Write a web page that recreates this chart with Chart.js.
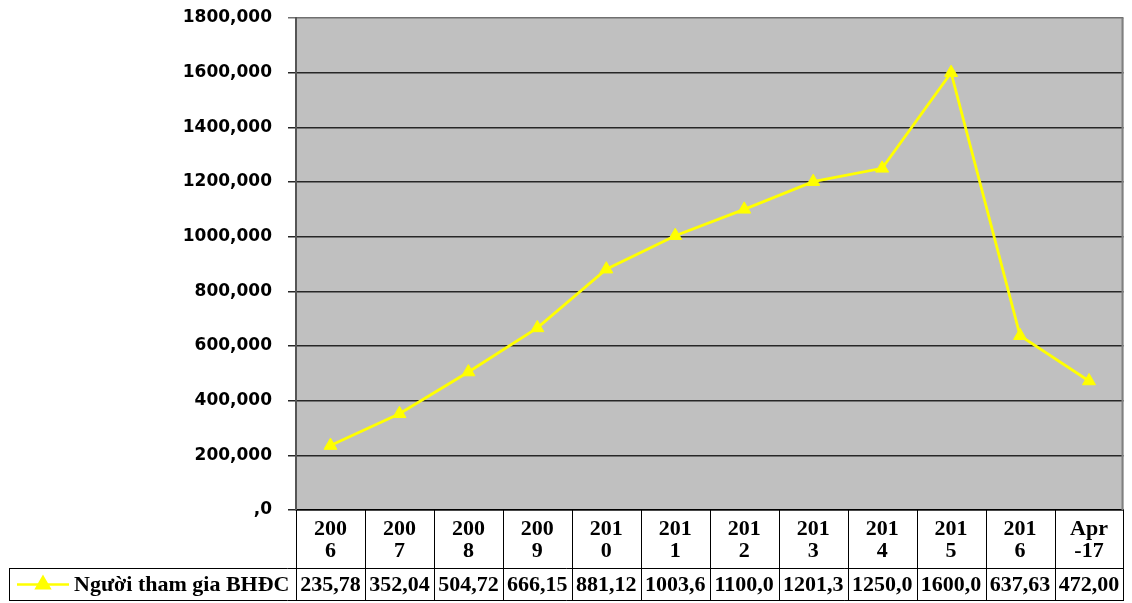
<!DOCTYPE html>
<html>
<head>
<meta charset="utf-8">
<script src="https://cdn.jsdelivr.net/npm/chart.js@4"></script>
<style>
  html, body { margin: 0; padding: 0; background: #fff; }
  #wrap { width: 1132px; height: 603px; position: relative; }
</style>
</head>
<body>
<div id="wrap"><canvas id="chart"></canvas></div>
<script>
const categories = ['2006', '2007', '2008', '2009', '2010', '2011', '2012', '2013', '2014', '2015', '2016', 'Apr-17'];
const participants = [235.78, 352.04, 504.72, 666.15, 881.12, 1003.6, 1100.0, 1201.3, 1250.0, 1600.0, 637.63, 472.00];
const seriesLabel = 'Người tham gia BHĐC';
const yTicks = [0, 200, 400, 600, 800, 1000, 1200, 1400, 1600, 1800];

const YELLOW = '#FFFF00';
const PLOT_BG = '#C0C0C0';
const TABLE_FONT = 'bold 22px "Liberation Serif", "Times New Roman", serif';

// Excel squeezed the year labels onto two lines
const wrapped = categories.map(c => [c.slice(0, 3), c.slice(3)]);
// cells only fit six characters
const cellText = v => v.toFixed(2).replace('.', ',').slice(0, 6);

const plotArea = {
  id: 'plotArea',
  beforeDraw(chart) {
    const { ctx, chartArea: a } = chart;
    ctx.save();
    ctx.fillStyle = PLOT_BG;
    ctx.fillRect(a.left, a.top, a.right - a.left, a.bottom - a.top);
    ctx.restore();
  },
  afterDatasetsDraw(chart) {
    const { ctx, chartArea: a } = chart;
    ctx.save();
    ctx.strokeStyle = '#808080';
    ctx.lineWidth = 2;
    ctx.beginPath();
    ctx.moveTo(a.right - 1, a.top);
    ctx.lineTo(a.right - 1, a.bottom);
    ctx.stroke();
    ctx.restore();
  }
};

const dataTable = {
  id: 'dataTable',
  afterDraw(chart) {
    const { ctx, chartArea: a } = chart;
    const x = chart.scales.x;
    const n = categories.length;
    const w = (a.right - a.left) / n;
    const rowTop = a.bottom + 58;
    const rowBottom = a.bottom + 91;
    const legendLeft = 9;
    const midY = (rowTop + rowBottom) / 2;

    ctx.save();
    ctx.strokeStyle = '#000';
    ctx.lineWidth = 1;
    ctx.beginPath();
    for (let i = 0; i < n; i++) {
      const edge = Math.round(x.getPixelForValue(i) - w / 2) + 0.5;
      ctx.moveTo(edge, a.bottom);
      ctx.lineTo(edge, rowBottom);
    }
    ctx.moveTo(Math.round(a.right) - 0.5, a.bottom);
    ctx.lineTo(Math.round(a.right) - 0.5, rowBottom);
    ctx.moveTo(legendLeft, rowTop + 0.5);
    ctx.lineTo(a.right, rowTop + 0.5);
    ctx.moveTo(legendLeft, rowBottom - 0.5);
    ctx.lineTo(a.right, rowBottom - 0.5);
    ctx.moveTo(legendLeft + 0.5, rowTop);
    ctx.lineTo(legendLeft + 0.5, rowBottom);
    ctx.stroke();

    // values row
    ctx.fillStyle = '#000';
    ctx.font = TABLE_FONT;
    ctx.textAlign = 'center';
    ctx.textBaseline = 'middle';
    participants.forEach((v, i) => {
      ctx.fillText(cellText(v), x.getPixelForValue(i), midY + 1);
    });

    // legend key
    ctx.strokeStyle = YELLOW;
    ctx.lineWidth = 2.5;
    ctx.beginPath();
    ctx.moveTo(17, midY);
    ctx.lineTo(69, midY);
    ctx.stroke();
    ctx.fillStyle = YELLOW;
    Chart.helpers.drawPoint(ctx, { pointStyle: 'triangle', radius: 7.5, borderWidth: 1, rotation: 0 }, 43, midY);
    ctx.fillStyle = '#000';
    ctx.textAlign = 'left';
    ctx.fillText(seriesLabel, 74, midY + 1);
    ctx.restore();
  }
};

new Chart(document.getElementById('chart'), {
  type: 'line',
  data: {
    labels: wrapped,
    datasets: [{
      label: seriesLabel,
      data: participants,
      borderColor: YELLOW,
      backgroundColor: YELLOW,
      borderWidth: 2.8,
      pointStyle: 'triangle',
      pointRadius: 7.5,
      pointBorderWidth: 1,
      tension: 0,
    }],
  },
  options: {
    responsive: true,
    maintainAspectRatio: false,
    animation: false,
    layout: { padding: { top: 18, right: 5, left: 0, bottom: 0 } },
    plugins: {
      legend: { display: false },
      tooltip: { enabled: false },
    },
    scales: {
      x: {
        offset: true,
        grid: { display: false, drawTicks: false },
        border: { color: '#000', width: 1.5 },
        ticks: {
          color: '#000',
          padding: 8,
          maxRotation: 0,
          autoSkip: false,
          font: { family: '"Liberation Serif", "Times New Roman", serif', size: 22, weight: 'bold', lineHeight: 1.0 },
        },
        afterFit(scale) {
          scale.height = 93;
          scale.paddingLeft = 0;
          scale.paddingRight = 0;
        },
      },
      y: {
        min: 0,
        max: 1800,
        afterBuildTicks(scale) { scale.ticks = yTicks.map(value => ({ value })); },
        grid: {
          color: c => (c.tick && c.tick.value === c.scale.max ? '#707070' : '#262626'),
          lineWidth: 1.5,
          tickLength: 8,
        },
        border: { color: '#555', width: 2 },
        ticks: {
          color: '#000',
          padding: 16,
          font: { family: '"DejaVu Sans", sans-serif', size: 17, weight: 'bold' },
          callback: v => (v ? v.toFixed(3).replace('.', ',') : ',0'),
        },
        afterFit(scale) {
          scale.width = 296;
          scale.paddingTop = 0;
          scale.paddingBottom = 0;
        },
      },
    },
  },
  plugins: [plotArea, dataTable],
});
</script>
</body>
</html>
